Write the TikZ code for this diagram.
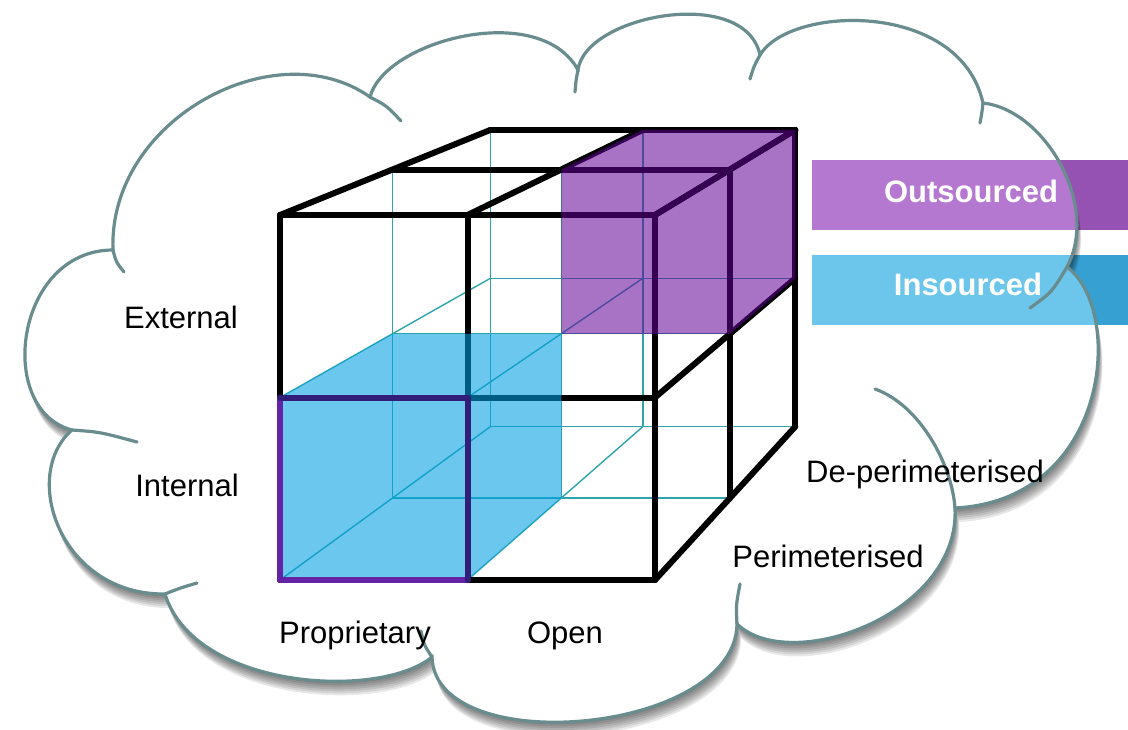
\documentclass[tikz,border=0pt]{standalone}
\usepackage{fontspec}
\setmainfont{Liberation Sans}
\usetikzlibrary{calc}

\definecolor{cloudgray}{RGB}{105,140,142}
\definecolor{hiddenteal}{RGB}{45,165,170}
\definecolor{outpurple}{RGB}{100,0,150}
\definecolor{inblue}{RGB}{0,160,225}
\definecolor{propviolet}{RGB}{100,35,165}
\definecolor{propdark}{RGB}{50,30,120}
\definecolor{outband}{RGB}{150,82,178}
\definecolor{outbandlight}{RGB}{180,120,208}
\definecolor{inband}{RGB}{55,160,210}
\definecolor{inbandlight}{RGB}{108,198,236}

% outline of the cloud, in pixel units
\newcommand{\cloudpath}{(113,250) .. controls (108,120) and (275,30) .. (370,97)
  .. controls (385,40) and (540,0) .. (578,70)
  .. controls (585,15) and (745,-15) .. (760,55)
  .. controls (790,5) and (960,0) .. (983,103)
  .. controls (1045,110) and (1100,205) .. (1067,267)
  .. controls (1125,310) and (1110,500) .. (955,508)
  .. controls (960,615) and (790,675) .. (737,624)
  .. controls (735,735) and (435,760) .. (432,657)
  .. controls (380,700) and (195,690) .. (165,594)
  .. controls (60,595) and (20,475) .. (72,430)
  .. controls (-5,410) and (15,250) .. (113,250) -- cycle}

\begin{document}
\begin{tikzpicture}[x=0.5pt, y=-0.5pt,
    solidedge/.style={line width=3pt, line cap=round, line join=round},
    hiddenedge/.style={draw=hiddenteal, line width=0.7pt},
    cloudline/.style={draw=cloudgray, line width=1.6pt, line cap=round},
    lbl/.style={font=\fontsize{15.5}{18}\selectfont, text=black, inner sep=0pt, anchor=base},
    bandlbl/.style={font=\fontsize{15.5}{18}\selectfont\bfseries, text=white, inner sep=0pt, anchor=base}]
  \useasboundingbox (0,0) rectangle (1128,729);
  \fill[white] (0,0) rectangle (1128,729);

  % legend bands, darker part outside the cloud
  \fill[outband] (812,160) rectangle (1128,230);
  \fill[inband] (812,255) rectangle (1128,325);

  % cloud with soft shadow
  \foreach \s in {1,...,7} {
    \fill[black, opacity=0.09, xshift={\s*0.3pt}, yshift={-\s*1pt}] \cloudpath;
  }
  \fill[white] \cloudpath;
  \begin{scope}
    \clip \cloudpath;
    \fill[outbandlight] (812,160) rectangle (1128,230);
    \fill[inbandlight] (812,255) rectangle (1128,325);
  \end{scope}
  \draw[cloudline] \cloudpath;
  \draw[cloudline] (113,250) .. controls (116,262) .. (124,272);
  \draw[cloudline] (370,97) .. controls (387,106) .. (401,121);
  \draw[cloudline] (578,70) .. controls (576,80) .. (575,92);
  \draw[cloudline] (760,55) .. controls (754,66) .. (750,79);
  \draw[cloudline] (983,103) .. controls (982,112) .. (980,123);
  \draw[cloudline] (1067,267) .. controls (1052,292) .. (1030,308);
  \draw[cloudline] (955,508) .. controls (952,465) and (920,405) .. (875,389);
  \draw[cloudline] (737,624) .. controls (736,605) .. (740,584);
  \draw[cloudline] (432,657) .. controls (424,645) .. (421,631);
  \draw[cloudline] (165,594) .. controls (180,588) .. (197,583);
  \draw[cloudline] (72,430) .. controls (100,432) .. (137,442);

  \node[bandlbl] (outlbl) at (971,202) {Outsourced};
  \node[bandlbl] (inlbl) at (968,295) {Insourced};

  % cube corners: front grid pulled towards the vanishing point
  \coordinate (vp) at (1405,-240);
  \foreach \i in {0,1,2} {
    \foreach \j in {0,1,2} {
      \coordinate (f\i\j) at ({280+187.5*\i},{580-182.5*\j});
    }
  }
  \foreach \i in {0,1,2} {
    \foreach \j in {0,1,2} {
      \foreach \k/\t in {0/0, 1/0.1, 2/0.187} {
        \coordinate (c\i\j\k) at ($(f\i\j)!\t!(vp)$);
      }
    }
  }

  % hidden edges
  \foreach \a in {0,1} {
    \foreach \b in {1,2} {
      \draw[hiddenedge] (c0\a\b) -- (c2\a\b);
      \draw[hiddenedge] (c\a0\b) -- (c\a2\b);
    }
  }
  \foreach \i in {0,1} {
    \foreach \j in {0,1} {
      \draw[hiddenedge] (c\i\j0) -- (c\i\j2);
    }
  }

  % visible edges
  \foreach \n in {0,1,2} {
    \draw[solidedge] (c0\n0) -- (c2\n0);
    \draw[solidedge] (c\n00) -- (c\n20);
    \draw[solidedge] (c\n20) -- (c\n22);
    \draw[solidedge] (c2\n0) -- (c2\n2);
  }
  \foreach \k in {1,2} {
    \draw[solidedge] (c02\k) -- (c22\k);
    \draw[solidedge] (c20\k) -- (c22\k);
  }

  % outsourced and insourced blocks
  \fill[outpurple, opacity=0.55] (c111) -- (c121) -- (c122) -- (c222) -- (c212) -- (c211) -- cycle;
  \fill[inblue, opacity=0.58] (c000) -- (c010) -- (c011) -- (c111) -- (c101) -- (c100) -- cycle;
  \draw[solidedge, draw=propviolet] (c000) rectangle (c110);
  \draw[solidedge, draw=propdark] (c010) -- (c110) -- (c100);

  \node[lbl] (extlbl) at (181,328) {External};
  \node[lbl] (intlbl) at (187,496) {Internal};
  \node[lbl] (proplbl) at (355,643) {Proprietary};
  \node[lbl] (openlbl) at (565,643) {Open};
  \node[lbl] (perlbl) at (828,567) {Perimeterised};
  \node[lbl] (deperlbl) at (925,482) {De-perimeterised};
\end{tikzpicture}
\end{document}
